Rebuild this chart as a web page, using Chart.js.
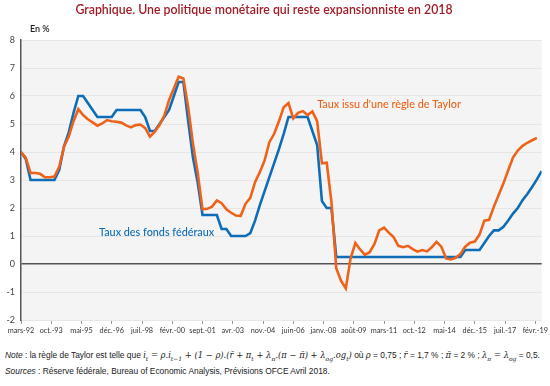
<!DOCTYPE html>
<html>
<head>
<meta charset="utf-8">
<script src="https://cdn.jsdelivr.net/npm/chart.js@4"></script>
<style>
  body { margin: 0; background: #fff; font-family: Lato, "Noto Sans", sans-serif; }
  #wrap { position: relative; width: 550px; height: 340px; }
  .foot { font-family: "Liberation Sans", Arial, sans-serif; font-size: 8.4px; color: #222; margin-left: 5px; white-space: nowrap; }
  .foot i.m { font-family: "DejaVu Serif", serif; font-size: 8.4px; }
  .foot sub { font-size: 6px; }
  #note { margin-top: 10px; }
  #src { margin-top: 4px; }
</style>
</head>
<body>
<div id="wrap"><canvas id="graf"></canvas></div>
<div class="foot" id="note"><i>Note</i> : la règle de Taylor est telle que <i class="m">i<sub>t</sub> = ρ.i<sub>t−1</sub> + (1 − ρ).(r̄ + π<sub>t</sub> + λ<sub>π</sub>.(π − π̄) + λ<sub>og</sub>.og<sub>t</sub>)</i> où <i class="m">ρ</i> = 0,75 ; <i class="m">r̄</i> = 1,7 % ; <i class="m">π̄</i> = 2 % ; <i class="m">λ<sub>π</sub> = λ<sub>og</sub></i> = 0,5.</div>
<div class="foot" id="src"><i>Sources</i> : Réserve fédérale, Bureau of Economic Analysis, Prévisions OFCE Avril 2018.</div>
<script>
// données trimestrielles, 1992T1 -> 2019T2 (mois compté depuis janv. 92)
const startMonth = 2; // mars-92
const tickLabels = ['mars-92', 'oct.-93', 'mai-95', 'déc.-96', 'juil.-98', 'févr.-00', 'sept.-01', 'avr.-03', 'nov.-04',
    'juin-06', 'janv.-08', 'août-09', 'mars-11', 'oct.-12', 'mai-14', 'déc.-15', 'juil.-17', 'févr.-19'];

const fedFunds = [
    4.0, 3.75, 3.0, 3.0, 3.0, 3.0, 3.0, 3.0, 3.35, 4.2,
    4.7, 5.4, 6.0, 6.0, 5.75, 5.5, 5.25, 5.25, 5.25, 5.25,
    5.5, 5.5, 5.5, 5.5, 5.5, 5.5, 5.25, 4.75, 4.75, 5.0,
    5.25, 5.5, 6.0, 6.5, 6.5, 5.1, 3.8, 2.9, 1.75, 1.75,
    1.75, 1.75, 1.25, 1.25, 1.0, 1.0, 1.0, 1.0, 1.1, 1.55,
    2.1, 2.6, 3.1, 3.6, 4.1, 4.65, 5.25, 5.25, 5.25, 5.25,
    5.25, 4.75, 4.25, 2.25, 2.0, 2.0, 0.25, 0.25, 0.25, 0.25,
    0.25, 0.25, 0.25, 0.25, 0.25, 0.25, 0.25, 0.25, 0.25, 0.25,
    0.25, 0.25, 0.25, 0.25, 0.25, 0.25, 0.25, 0.25, 0.25, 0.25,
    0.25, 0.25, 0.25, 0.5, 0.5, 0.5, 0.5, 0.75, 1.0, 1.2,
    1.2, 1.33, 1.55, 1.8, 2.0, 2.28, 2.5, 2.75, 3.02, 3.32
];

const taylorRule = [
    4.0, 3.8, 3.25, 3.25, 3.22, 3.1, 3.1, 3.12, 3.47, 4.19,
    4.55, 5.1, 5.53, 5.32, 5.17, 5.06, 4.94, 5.02, 5.14, 5.1,
    5.08, 5.05, 4.95, 4.88, 4.96, 4.98, 4.85, 4.55, 4.73, 4.96,
    5.3, 5.86, 6.27, 6.69, 6.63, 5.6, 4.3, 3.25, 1.95, 1.97,
    2.05, 2.27, 2.17, 1.95, 1.83, 1.73, 1.72, 2.15, 2.36, 2.92,
    3.28, 3.7, 4.35, 4.65, 5.1, 5.6, 5.75, 5.2, 5.4, 5.46,
    5.32, 5.45, 5.1, 3.6, 3.62, 2.2, -0.15, -0.6, -0.87, 0.2,
    0.75, 0.52, 0.33, 0.42, 0.72, 1.2, 1.3, 1.12, 0.96, 0.65,
    0.6, 0.65, 0.53, 0.44, 0.5, 0.45, 0.6, 0.79, 0.62, 0.2,
    0.16, 0.22, 0.36, 0.62, 0.76, 0.8, 1.05, 1.55, 1.58, 2.05,
    2.46, 2.88, 3.35, 3.8, 4.05, 4.22, 4.33, 4.42, 4.5, null
];

const BLEU = '#0f6db8';
const ORANGE = '#ee6219';

function toPoints(arr) {
    return arr.map((v, k) => ({ x: startMonth + 3 * k, y: v }));
}

// fond gris, titre, "En %", étiquettes des séries
const decor = {
    id: 'decor',
    beforeDraw(chart) {
        const { ctx, chartArea: a } = chart;
        ctx.save();
        ctx.fillStyle = '#f4f4f4';
        ctx.fillRect(a.left, a.top, a.right - a.left, a.bottom - a.top);
        ctx.restore();
    },
    afterDraw(chart) {
        const { ctx, chartArea: a, scales } = chart;
        ctx.save();
        ctx.textBaseline = 'middle';
        ctx.fillStyle = '#a11c26';
        ctx.font = '600 12.3px Lato';
        ctx.textAlign = 'center';
        ctx.fillText('Graphique. Une politique monétaire qui reste expansionniste en 2018', 264, 10);
        ctx.textAlign = 'left';
        ctx.fillStyle = '#222';
        ctx.font = '600 9px Lato';
        ctx.fillText('En %', a.left + 9, 29);
        ctx.font = '500 10.8px Lato';
        ctx.fillStyle = ORANGE;
        ctx.fillText("Taux issu d'une règle de Taylor", scales.x.getPixelForValue(188), scales.y.getPixelForValue(5.68));
        ctx.fillStyle = BLEU;
        ctx.fillText('Taux des fonds fédéraux', scales.x.getPixelForValue(51), scales.y.getPixelForValue(1.14));
        ctx.restore();
    }
};

new Chart(document.getElementById('graf'), {
    type: 'line',
    data: {
        datasets: [
            {
                label: 'Taux des fonds fédéraux',
                data: toPoints(fedFunds),
                borderColor: BLEU,
                borderWidth: 2.6,
                order: 1
            },
            {
                label: "Taux issu d'une règle de Taylor",
                data: toPoints(taylorRule),
                borderColor: ORANGE,
                borderWidth: 2.6,
                order: 0
            }
        ]
    },
    options: {
        responsive: true,
        maintainAspectRatio: false,
        animation: false,
        elements: { point: { radius: 0 }, line: { tension: 0 } },
        layout: { padding: { top: 40, right: 8, left: 0, bottom: 0 } },
        plugins: {
            legend: { display: false },
            tooltip: { enabled: false }
        },
        scales: {
            x: {
                type: 'linear',
                min: startMonth,
                max: startMonth + 3 * (fedFunds.length - 1),
                afterBuildTicks: (axis) => {
                    axis.ticks = tickLabels.map((_, i) => ({ value: startMonth + 19 * i }));
                },
                afterFit: (axis) => { axis.height = 20; },
                border: { display: false },
                grid: { drawOnChartArea: false, drawTicks: true, tickLength: 4, color: '#999' },
                ticks: {
                    autoSkip: false,
                    maxRotation: 0,
                    padding: 2,
                    color: '#333',
                    font: { family: 'Lato', size: 7.3 },
                    callback: (v, i) => tickLabels[i]
                }
            },
            y: {
                min: -2,
                max: 8,
                afterFit: (axis) => { axis.width = 21; },
                border: { display: true, color: '#555', width: 1.5 },
                grid: {
                    drawTicks: false,
                    color: (c) => c.tick.value === 0 ? '#555' : '#e6e6e6',
                    lineWidth: (c) => c.tick.value === 0 ? 1.5 : 1
                },
                ticks: {
                    stepSize: 1,
                    padding: 6,
                    color: '#444',
                    font: { family: 'Lato', size: 9 }
                }
            }
        }
    },
    plugins: [decor]
});
</script>
</body>
</html>
